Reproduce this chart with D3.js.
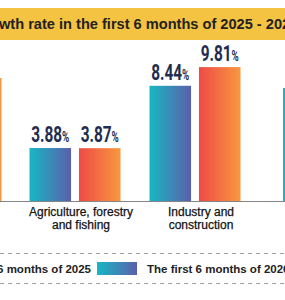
<!DOCTYPE html>
<html>
<head>
<meta charset="utf-8">
<script src="https://cdn.jsdelivr.net/npm/d3@7"></script>
<style>
  body { margin: 0; background: #fff; }
  svg { display: block; }
</style>
</head>
<body>
<div id="chart"></div>
<script>
// data
const categories = ["GDP", "Agriculture, forestry and fishing", "Industry and construction", "Services"];
const categoryLines = [["GDP"], ["Agriculture, forestry", "and fishing"], ["Industry and", "construction"], ["Services"]];
const series = ["The first 6 months of 2025", "The first 6 months of 2026"];
const values2025 = [7.52, 3.88, 8.44, 8.28];
const values2026 = [9.01, 3.87, 9.81, 8.95];
const title = "GDP growth rate in the first 6 months of 2025 - 2026";

const width = 285, height = 300;
const baseY = 201;
// group centres of the (cropped) infographic, spacing is not even
const groupCenters = [-44, 75, 195, 328.5];

const svg = d3.select("#chart").append("svg")
    .attr("width", width)
    .attr("height", height);

// gradients for the bars
const defs = svg.append("defs");
const grads = [
    {id: "g2025", from: "#17b7c4", to: "#5b5fab"},
    {id: "g2026", from: "#ef4a47", to: "#f8983e"}
];
grads.forEach(g => {
    const lg = defs.append("linearGradient").attr("id", g.id)
        .attr("x1", 0).attr("x2", 1).attr("y1", 0).attr("y2", 0);
    lg.append("stop").attr("offset", "0%").attr("stop-color", g.from);
    lg.append("stop").attr("offset", "100%").attr("stop-color", g.to);
});
const fillOf = {};
fillOf[series[0]] = "url(#g2025)";
fillOf[series[1]] = "url(#g2026)";

// title banner
svg.append("rect")
    .attr("x", 0).attr("y", 8)
    .attr("width", width).attr("height", 32)
    .attr("fill", "#f5c342");

const titleText = svg.append("text")
    .attr("x", 0).attr("y", 29)
    .style("font-family", "'Liberation Sans', Arial, sans-serif")
    .style("font-size", "14.6px")
    .style("font-weight", "bold")
    .style("fill", "#222")
    .text(title);
// shift so the visible part starts at "wth"
const cut = title.indexOf("wth");
const off = titleText.node().getSubStringLength(0, cut);
titleText.attr("x", -off - 1);

// scales
const x0 = d3.scaleLinear()
    .domain(d3.range(categories.length))
    .range(groupCenters);

const x1 = d3.scaleBand()
    .domain(series)
    .range([-45.5, 45.5])
    .paddingInner(0.16);

const y = d3.scaleLinear()
    .domain([0, 10])
    .range([baseY, 64.5]);

const rows = categories.map((c, i) => ({
    idx: i,
    cat: c,
    lines: categoryLines[i],
    vals: [
        {s: series[0], v: values2025[i]},
        {s: series[1], v: values2026[i]}
    ]
}));

// bars
const groups = svg.selectAll(".grp")
    .data(rows)
    .enter()
    .append("g")
    .attr("class", "grp")
    .attr("transform", d => "translate(" + x0(d.idx) + ",0)");

groups.selectAll("rect")
    .data(d => d.vals)
    .enter()
    .append("rect")
    .attr("x", d => x1(d.s))
    .attr("y", d => y(d.v))
    .attr("width", x1.bandwidth())
    .attr("height", d => baseY - y(d.v))
    .attr("fill", d => fillOf[d.s]);

// value labels (condensed look)
const fmt = d3.format(".2f");
const lab = groups.selectAll(".val")
    .data(d => d.vals)
    .enter()
    .append("g")
    .attr("class", "val")
    .attr("transform", d => "translate(" + (x1(d.s) + x1.bandwidth() / 2) + "," + (y(d.v) - 6) + ") scale(0.7,1)");

const lt = lab.append("text")
    .attr("text-anchor", "middle")
    .style("font-family", "Roboto, 'DejaVu Sans', sans-serif")
    .style("font-weight", "bold")
    .style("fill", "#1f2e50");
lt.append("tspan").style("font-size", "22px").text(d => fmt(d.v));
lt.append("tspan").style("font-size", "14px").text("%");

// baseline
svg.append("line")
    .attr("x1", 0).attr("x2", width)
    .attr("y1", baseY + 0.5).attr("y2", baseY + 0.5)
    .attr("stroke", "#858585")
    .attr("stroke-width", 1.2);

// category labels
const cl = groups.append("text")
    .attr("text-anchor", "middle")
    .style("font-family", "'Liberation Sans', Arial, sans-serif")
    .style("font-size", "12px")
    .style("fill", "#111")
    .style("stroke", "#111")
    .style("stroke-width", "0.25px");
cl.selectAll("tspan")
    .data(d => d.lines)
    .enter()
    .append("tspan")
    .attr("x", 6)
    .attr("y", (d, i) => 216 + i * 12.5)
    .text(d => d);

// legend
svg.selectAll(".dash")
    .data([253.5, 283.5])
    .enter()
    .append("line")
    .attr("x1", 0).attr("x2", width)
    .attr("y1", d => d).attr("y2", d => d)
    .attr("stroke", "#a0a0a0")
    .attr("stroke-width", 1)
    .attr("stroke-dasharray", "4,4");

const legFont = "'Liberation Sans', Arial, sans-serif";
svg.append("text")
    .attr("x", 91).attr("y", 273)
    .attr("text-anchor", "end")
    .style("font-family", legFont)
    .style("font-size", "11.5px")
    .style("font-weight", "bold")
    .style("fill", "#222")
    .text(series[0]);
svg.append("rect")
    .attr("x", 97).attr("y", 262)
    .attr("width", 40).attr("height", 13)
    .attr("fill", fillOf[series[0]]);

const leg2 = svg.append("text")
    .attr("x", 147).attr("y", 273)
    .style("font-family", legFont)
    .style("font-size", "11.5px")
    .style("font-weight", "bold")
    .style("fill", "#222")
    .text(series[1]);
const l2w = leg2.node().getComputedTextLength();
svg.append("rect")
    .attr("x", 147 + l2w + 6).attr("y", 262)
    .attr("width", 40).attr("height", 13)
    .attr("fill", fillOf[series[1]]);
</script>
</body>
</html>
